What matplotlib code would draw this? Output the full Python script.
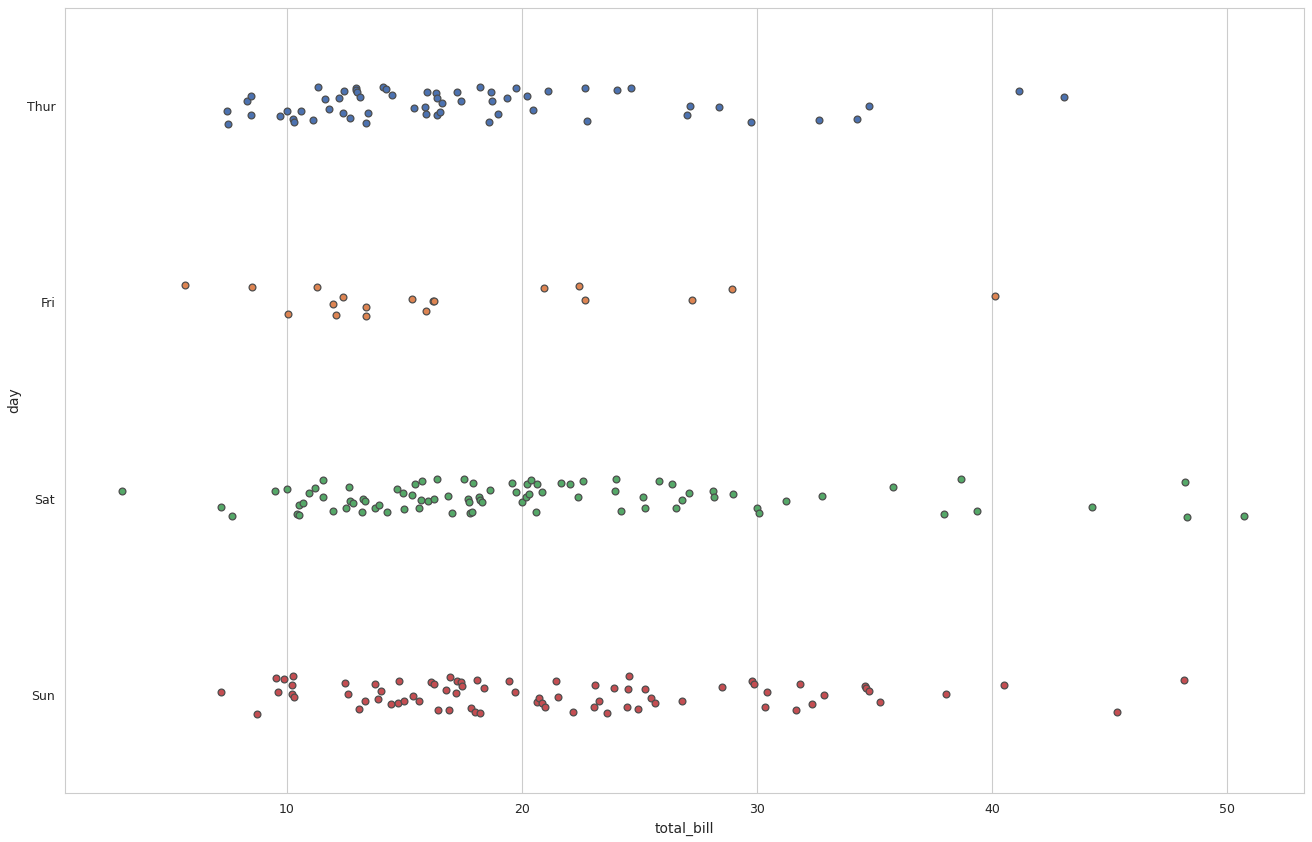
import numpy as np
import matplotlib
matplotlib.use("Agg")
import matplotlib.pyplot as plt
import seaborn as sns

# Дни (сверху вниз) и цвета палитры deep
days = ["Thur", "Fri", "Sat", "Sun"]
colors = ["#4C72B0", "#DD8452", "#55A868", "#C44E52"]

# total_bill по дням и вертикальный разброс (jitter)
thur_bill = [7.43, 7.50, 8.29, 8.46, 8.46, 9.70, 10.01, 10.27, 10.30, 10.58,
             11.12, 11.31, 11.63, 11.80, 12.20, 12.37, 12.43, 12.68, 12.94, 12.95,
             12.97, 13.11, 13.36, 13.45, 14.07, 14.21, 14.46, 15.42, 15.89, 15.91,
             15.94, 16.34, 16.37, 16.40, 16.51, 16.60, 17.22, 17.42, 18.21, 18.58,
             18.67, 18.72, 18.99, 19.37, 19.74, 20.21, 20.47, 21.11, 22.69, 22.77,
             24.03, 24.65, 27.01, 27.15, 28.38, 29.76, 32.64, 34.26, 34.78, 41.16,
             43.08]
thur_jit = [0.025, 0.093, -0.026, -0.053, 0.047, 0.050, 0.026, 0.064, 0.081, 0.025,
            0.071, -0.096, -0.038, 0.015, -0.043, 0.034, -0.077, 0.062, -0.094, -0.082,
            -0.072, -0.048, 0.085, 0.037, -0.099, -0.089, -0.055, 0.008, 0.005, 0.042,
            -0.072, -0.068, -0.043, 0.047, 0.030, -0.017, -0.070, -0.026, -0.099, 0.079,
            -0.073, -0.026, 0.039, -0.041, -0.092, -0.050, 0.018, -0.078, -0.091, 0.076,
            -0.082, -0.091, 0.045, 0.001, 0.005, 0.083, 0.071, 0.067, -0.002, -0.078,
            -0.048]

fri_bill = [5.67, 8.51, 10.03, 11.28, 11.97, 12.09, 12.40, 13.35, 13.38, 15.32,
            15.91, 16.20, 16.26, 20.95, 22.43, 22.69, 27.22, 28.92, 40.14]
fri_jit = [-0.087, -0.080, 0.059, -0.078, 0.010, 0.066, -0.026, 0.023, 0.068, -0.019,
           0.045, -0.007, -0.009, -0.072, -0.084, -0.011, -0.012, -0.070, -0.034]

sat_bill = [2.98, 7.18, 7.67, 9.48, 10.01, 10.41, 10.51, 10.52, 10.69, 10.95,
            11.18, 11.54, 11.52, 11.96, 12.52, 12.63, 12.68, 12.82, 13.20, 13.22,
            13.32, 13.74, 13.93, 14.24, 14.67, 14.95, 14.99, 15.31, 15.46, 15.63,
            15.70, 15.74, 15.99, 16.24, 16.40, 16.86, 17.01, 17.53, 17.71, 17.74,
            17.78, 17.86, 17.92, 18.18, 18.21, 18.29, 18.63, 19.59, 19.76, 20.01,
            20.17, 20.23, 20.29, 20.40, 20.64, 20.60, 20.86, 21.65, 22.06, 22.37,
            22.61, 24.01, 23.97, 24.21, 25.16, 25.22, 25.84, 26.37, 26.54, 26.81,
            27.09, 28.11, 28.17, 28.99, 30.01, 30.09, 31.22, 32.77, 35.78, 37.95,
            38.69, 39.38, 44.25, 48.23, 48.29, 50.74]
sat_jit = [-0.037, 0.044, 0.087, -0.039, -0.049, 0.078, 0.084, 0.034, 0.024, -0.030,
           -0.056, -0.095, -0.007, 0.062, 0.049, -0.058, 0.014, 0.021, 0.067, 0.002,
           0.011, 0.049, 0.033, 0.067, -0.050, -0.030, 0.051, -0.018, -0.076, 0.049,
           0.007, -0.091, 0.011, 0.002, -0.098, -0.012, 0.075, -0.099, 0.002, 0.019,
           0.073, 0.068, -0.078, -0.007, 0.004, 0.016, -0.045, -0.078, -0.032, 0.016,
           -0.010, -0.074, -0.023, -0.095, -0.074, 0.067, -0.032, -0.081, -0.076, -0.007,
           -0.090, -0.099, -0.037, 0.063, -0.010, 0.046, -0.091, -0.076, 0.046, 0.004,
           -0.027, -0.039, -0.008, -0.023, 0.048, 0.072, 0.012, -0.012, -0.059, 0.080,
           -0.099, 0.065, 0.041, -0.086, 0.095, 0.089]

sun_bill = [7.18, 8.71, 9.53, 9.60, 9.87, 10.27, 10.20, 10.23, 10.29, 12.47,
            12.60, 13.06, 13.32, 13.74, 13.87, 14.01, 14.41, 14.71, 14.77, 14.97,
            15.35, 15.62, 16.14, 16.24, 16.43, 16.75, 16.91, 16.93, 17.19, 17.23,
            17.40, 17.46, 17.82, 17.99, 18.09, 18.23, 18.37, 19.43, 19.70, 20.63,
            20.71, 20.85, 20.97, 21.45, 21.52, 22.18, 23.05, 23.12, 23.28, 23.62,
            23.90, 24.46, 24.50, 24.54, 24.95, 25.23, 25.50, 25.66, 26.82, 28.50,
            29.80, 29.89, 30.41, 30.35, 31.82, 31.67, 32.35, 32.85, 34.58, 34.63,
            34.77, 35.22, 38.04, 40.52, 45.33, 48.16]
sun_jit = [-0.013, 0.097, -0.085, -0.013, -0.083, -0.099, -0.052, -0.005, 0.011, -0.061,
           -0.003, 0.072, 0.028, -0.057, 0.021, -0.020, 0.048, 0.040, -0.072, 0.030,
           0.006, 0.030, -0.064, -0.057, 0.078, -0.026, 0.075, -0.090, -0.010, -0.071,
           -0.067, -0.044, 0.068, 0.084, -0.076, 0.091, -0.035, -0.069, -0.015, 0.035,
           0.014, 0.043, 0.062, -0.071, 0.011, 0.089, 0.063, -0.050, 0.028, 0.091,
           -0.037, 0.060, -0.029, -0.099, 0.073, -0.029, 0.014, 0.040, 0.031, -0.039,
           -0.071, -0.054, -0.013, 0.063, -0.056, 0.078, 0.045, -0.001, -0.045, -0.035,
           -0.018, 0.038, -0.005, -0.050, 0.087, -0.074]

bills = [thur_bill, fri_bill, sat_bill, sun_bill]
jitters = [thur_jit, fri_jit, sat_jit, sun_jit]

sns.set_style("whitegrid")

fig = plt.figure(figsize=(13.12, 8.42), dpi=100)
ax = fig.add_axes([0.0495, 0.058, 0.9445, 0.9325])

for i in range(len(days)):
    x = np.array(bills[i])
    y = i + np.array(jitters[i])
    ax.scatter(x, y, s=24, color=colors[i], edgecolor="0.3", linewidth=0.9, zorder=3)

ax.set_yticks(range(len(days)))
ax.set_yticklabels(days)
ax.set_ylim(3.5, -0.5)
ax.set_xlim(0.55, 53.28)
ax.yaxis.grid(False)
ax.set_xticks([10, 20, 30, 40, 50])
ax.tick_params(labelsize=9)
ax.set_xlabel("total_bill", fontsize=10)
ax.set_ylabel("day", fontsize=10)

fig.savefig("out.png", dpi=100)
